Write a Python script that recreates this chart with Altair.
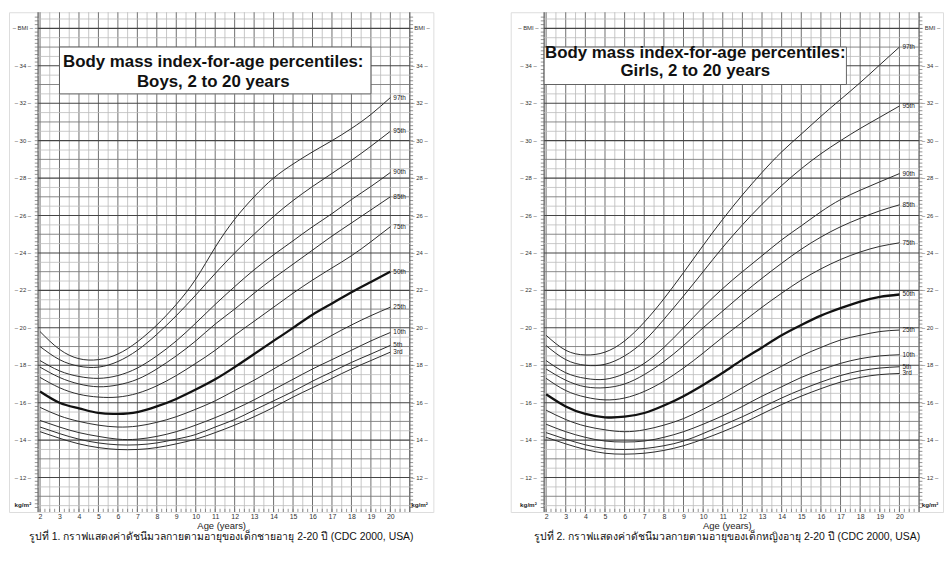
import altair as alt
import numpy as np
import pandas as pd

# ---------------- data ----------------
AGES = list(range(2, 21))
PCT_NAMES = ["3rd", "5th", "10th", "25th", "50th", "75th", "85th", "90th", "95th", "97th"]

B3 = [14.45, 14.1, 13.8, 13.6, 13.5, 13.5, 13.6, 13.8, 14.05, 14.4, 14.8, 15.25, 15.75, 16.3, 16.8, 17.3, 17.8, 18.25, 18.7]
B5 = [14.7, 14.35, 14.05, 13.85, 13.75, 13.75, 13.85, 14.05, 14.3, 14.7, 15.1, 15.6, 16.1, 16.6, 17.15, 17.65, 18.15, 18.6, 19.06]
B10 = [15.05, 14.7, 14.4, 14.2, 14.05, 14.05, 14.2, 14.45, 14.8, 15.2, 15.65, 16.15, 16.7, 17.25, 17.8, 18.3, 18.8, 19.3, 19.75]
B25 = [15.75, 15.3, 15.0, 14.8, 14.7, 14.75, 14.95, 15.25, 15.65, 16.1, 16.65, 17.2, 17.8, 18.4, 19.0, 19.6, 20.15, 20.65, 21.1]
B50 = [16.6, 16.0, 15.7, 15.45, 15.4, 15.5, 15.8, 16.2, 16.7, 17.25, 17.9, 18.6, 19.3, 20.0, 20.7, 21.3, 21.9, 22.45, 23.0]
B75 = [17.35, 16.8, 16.45, 16.3, 16.3, 16.5, 16.9, 17.45, 18.1, 18.8, 19.6, 20.35, 21.1, 21.85, 22.55, 23.2, 23.85, 24.6, 25.4]
B85 = [17.9, 17.35, 17.0, 16.85, 16.95, 17.25, 17.8, 18.5, 19.3, 20.2, 21.0, 21.85, 22.65, 23.4, 24.15, 24.9, 25.6, 26.3, 27.0]
B90 = [18.25, 17.7, 17.4, 17.3, 17.45, 17.85, 18.5, 19.3, 20.25, 21.25, 22.2, 23.1, 23.9, 24.65, 25.4, 26.1, 26.85, 27.55, 28.3]
B95 = [19.0, 18.3, 17.95, 17.9, 18.2, 18.8, 19.65, 20.65, 21.75, 22.9, 24.0, 25.0, 25.95, 26.8, 27.55, 28.25, 28.95, 29.7, 30.5]
B97 = [19.8, 18.85, 18.35, 18.3, 18.6, 19.25, 20.15, 21.25, 22.6, 24.3, 25.8, 27.0, 28.0, 28.75, 29.4, 30.0, 30.65, 31.4, 32.3]

G3 = [14.15, 13.8, 13.5, 13.3, 13.25, 13.3, 13.45, 13.7, 14.05, 14.45, 14.9, 15.4, 15.9, 16.35, 16.75, 17.1, 17.35, 17.5, 17.56]
G5 = [14.4, 14.05, 13.75, 13.55, 13.5, 13.55, 13.7, 13.95, 14.35, 14.8, 15.25, 15.75, 16.25, 16.7, 17.1, 17.45, 17.7, 17.85, 17.92]
G10 = [14.85, 14.45, 14.15, 13.95, 13.9, 13.95, 14.15, 14.45, 14.85, 15.3, 15.8, 16.35, 16.85, 17.35, 17.75, 18.1, 18.35, 18.5, 18.56]
G25 = [15.6, 15.1, 14.75, 14.55, 14.45, 14.55, 14.8, 15.15, 15.65, 16.2, 16.8, 17.4, 17.95, 18.5, 18.95, 19.35, 19.6, 19.8, 19.88]
G50 = [16.45, 15.8, 15.4, 15.22, 15.25, 15.45, 15.85, 16.35, 16.95, 17.6, 18.3, 18.95, 19.6, 20.15, 20.65, 21.05, 21.4, 21.65, 21.78]
G75 = [17.3, 16.65, 16.3, 16.15, 16.25, 16.6, 17.15, 17.85, 18.65, 19.5, 20.3, 21.1, 21.85, 22.55, 23.15, 23.65, 24.05, 24.35, 24.54]
G85 = [17.8, 17.2, 16.85, 16.8, 17.0, 17.5, 18.2, 19.05, 20.0, 20.9, 21.8, 22.65, 23.45, 24.2, 24.85, 25.4, 25.85, 26.25, 26.57]
G90 = [18.25, 17.6, 17.3, 17.25, 17.55, 18.1, 18.95, 20.0, 21.1, 22.1, 23.0, 23.85, 24.7, 25.45, 26.2, 26.85, 27.35, 27.8, 28.24]
G95 = [19.05, 18.3, 18.0, 18.05, 18.5, 19.3, 20.45, 21.7, 23.0, 24.3, 25.5, 26.6, 27.6, 28.5, 29.3, 30.0, 30.65, 31.25, 31.85]
G97 = [19.6, 18.8, 18.55, 18.7, 19.3, 20.3, 21.55, 22.95, 24.4, 25.8, 27.1, 28.3, 29.4, 30.35, 31.3, 32.2, 33.1, 34.05, 35.0]

BOYS = [B3, B5, B10, B25, B50, B75, B85, B90, B95, B97]
GIRLS = [G3, G5, G10, G25, G50, G75, G85, G90, G95, G97]

AXIS_AGES = list(range(2, 21))
BMI_LABELS = list(range(12, 35, 2))
TITLE_LINE1 = "Body mass index-for-age percentiles:"
BOYS_LINE2 = "Boys, 2 to 20 years"
GIRLS_LINE2 = "Girls, 2 to 20 years"
BOYS_CAPTION = "รูปที่ 1. กราฟแสดงค่าดัชนีมวลกายตามอายุของเด็กชายอายุ 2-20 ปี (CDC 2000, USA)"
GIRLS_CAPTION = "รูปที่ 2. กราฟแสดงค่าดัชนีมวลกายตามอายุของเด็กหญิงอายุ 2-20 ปี (CDC 2000, USA)"

# ---------------- layout constants ----------------
FONT = "Liberation Sans"
Y_DOM = [10.16, 36.86]
GRID_X0, GRID_X1 = 1.9, 21.0
PLOT_H = 504


def long_df(series):
    rows = []
    for name, vals in zip(PCT_NAMES, series):
        for a, v in zip(AGES, vals):
            rows.append({"age": a, "bmi": v, "pct": name})
    return pd.DataFrame(rows)


def panel(series, line2, xdom, width, box, title_pos, cols, caption):
    xs = alt.Scale(domain=xdom, nice=False, zero=False)
    ys = alt.Scale(domain=Y_DOM, nice=False, zero=False)
    x_axis = alt.Axis(values=AXIS_AGES, labelFontSize=7, labelColor="#333", labelFont=FONT,
                      domain=False, ticks=False, grid=False, labelPadding=1, labelFlush=False,
                      title="Age (years)", titleFontSize=9.5, titleFontWeight="normal",
                      titleFont=FONT, titlePadding=1, titleColor="#222")

    def X(f):
        return alt.X(f, type="quantitative", scale=xs, axis=x_axis)

    def Y(f):
        return alt.Y(f, type="quantitative", scale=ys, axis=None)

    layers = []
    # vertical grid
    half_ages = np.arange(2.5, 21.0, 1.0)
    layers.append(alt.Chart(pd.DataFrame({"age": half_ages})).mark_rule(color="#b8b8b8", strokeWidth=0.8).encode(x=X("age")))
    layers.append(alt.Chart(pd.DataFrame({"age": np.arange(2, 21)})).mark_rule(color="#6e6e6e", strokeWidth=1.0).encode(x=X("age")))
    layers.append(alt.Chart(pd.DataFrame({"age": [GRID_X0, GRID_X1]})).mark_rule(color="#444", strokeWidth=1.1).encode(x=X("age")))
    # horizontal grid
    hv = np.arange(10.5, 36.6, 0.5)
    kind = np.where(hv % 2 == 0, "even", np.where(hv % 1 == 0, "odd", "half"))
    hdf = pd.DataFrame({"bmi": hv, "kind": kind, "x0": GRID_X0, "x1": GRID_X1})
    for k, col, w in [("half", "#bcbcbc", 0.8), ("odd", "#7a7a7a", 0.9), ("even", "#454545", 1.1)]:
        layers.append(alt.Chart(hdf[hdf.kind == k]).mark_rule(color=col, strokeWidth=w).encode(
            x=X("x0"), x2="x1", y=Y("bmi")))
    # ruler ticks on the grid edges
    tv = np.arange(10.4, 36.8, 0.2)
    layers.append(alt.Chart(pd.DataFrame({"bmi": tv, "x0": GRID_X0 - 0.17, "x1": GRID_X0})).mark_rule(color="#666", strokeWidth=0.7).encode(
        x=X("x0"), x2="x1", y=Y("bmi")))
    layers.append(alt.Chart(pd.DataFrame({"bmi": tv, "x0": GRID_X1, "x1": GRID_X1 + 0.17})).mark_rule(color="#666", strokeWidth=0.7).encode(
        x=X("x0"), x2="x1", y=Y("bmi")))
    bt = np.arange(2.0, 21.0, 0.25)
    layers.append(alt.Chart(pd.DataFrame({"age": bt, "y0": Y_DOM[0], "y1": Y_DOM[0] + 0.17})).mark_rule(color="#666", strokeWidth=0.7).encode(
        x=X("age"), y=Y("y0"), y2="y1"))
    # title box
    bx = pd.DataFrame({"x0": [box[0]], "x1": [box[1]], "y0": [box[2]], "y1": [box[3]]})
    layers.append(alt.Chart(bx).mark_rect(fill="white", stroke="#555", strokeWidth=0.9).encode(
        x=X("x0"), x2="x1", y=Y("y0"), y2="y1"))
    tdf = pd.DataFrame({"age": [title_pos[0]] * 2, "bmi": [title_pos[1], title_pos[2]], "t": [TITLE_LINE1, line2]})
    layers.append(alt.Chart(tdf).mark_text(font=FONT, fontSize=17, fontWeight="bold", color="#111", baseline="middle").encode(
        x=X("age"), y=Y("bmi"), text="t:N"))
    # percentile curves
    df = long_df(series)
    thin = df[df.pct != "50th"]
    layers.append(alt.Chart(thin).mark_line(color="#2a2a2a", strokeWidth=1.0, interpolate="natural").encode(
        x=X("age"), y=Y("bmi"), detail="pct:N"))
    layers.append(alt.Chart(df[df.pct == "50th"]).mark_line(color="#111", strokeWidth=2.3, interpolate="natural").encode(
        x=X("age"), y=Y("bmi")))
    ends = df[df.age == AGES[-1]]
    layers.append(alt.Chart(ends).mark_text(font=FONT, fontSize=6.5, align="left", baseline="middle", dx=3, color="#222").encode(
        x=X("age"), y=Y("bmi"), text="pct:N"))
    # BMI labels in the side columns
    lab = [f"–  {v}  –" for v in BMI_LABELS] + ["–  BMI  –"]
    lv = BMI_LABELS + [36]
    for cx in cols:
        ldf = pd.DataFrame({"bmi": lv, "t": lab, "cx": cx})
        layers.append(alt.Chart(ldf).mark_text(font=FONT, fontSize=6, color="#333", baseline="middle").encode(
            x=X("cx"), y=Y("bmi"), text="t:N"))
        kdf = pd.DataFrame({"bmi": [10.55], "t": ["kg/m²"], "cx": [cx]})
        layers.append(alt.Chart(kdf).mark_text(font=FONT, fontSize=6.3, fontWeight="bold", color="#222", baseline="middle").encode(
            x=X("cx"), y=Y("bmi"), text="t:N"))

    return alt.layer(*layers).properties(
        width=width, height=PLOT_H,
        title=alt.TitleParams(caption, orient="bottom", fontSize=10.5, font=FONT, fontWeight="normal",
                              color="#111", offset=2, anchor="middle"))


boys = panel(BOYS, BOYS_LINE2, [0.405, 22.21], 428, (3.0, 19.0, 32.5, 35.0), (10.9, 34.2, 33.15),
             (1.12, 21.5), BOYS_CAPTION)
girls = panel(GIRLS, GIRLS_LINE2, [0.197, 22.22], 436, (1.9, 17.3, 33.0, 35.0), (9.6, 34.7, 33.7),
              (1.1, 21.56), GIRLS_CAPTION)

chart = alt.hconcat(boys, girls, spacing=76, padding=0).configure_view(
    stroke="#333", strokeWidth=1.2).configure(font=FONT, background="white", padding=0)

chart.save("out.html", embed_options={"renderer": "svg", "actions": False})
